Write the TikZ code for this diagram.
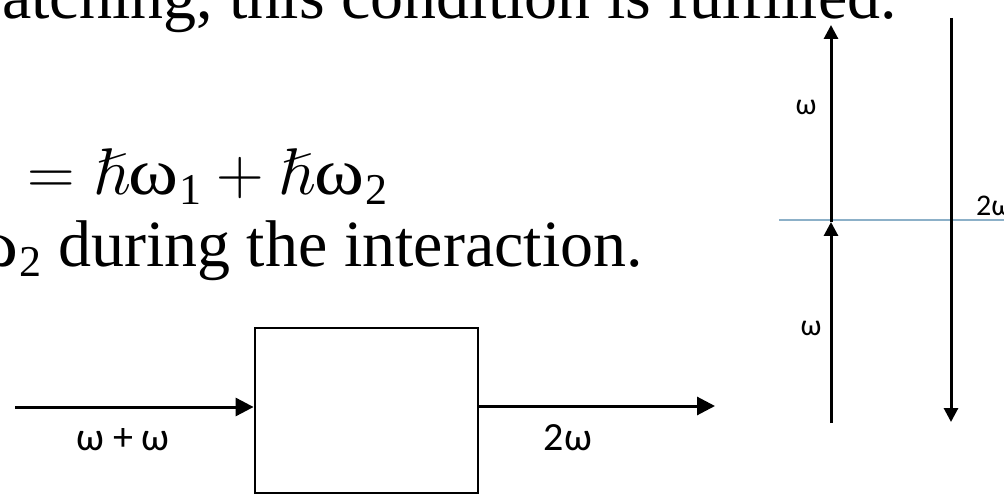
\RequirePackage{fix-cm}
\documentclass[tikz,border=0pt]{standalone}
\usepackage{amssymb}
\usepackage{graphicx}
\usepackage{fontspec}
\setmainfont{Liberation Serif}
\newfontfamily\lab{Carlito}
\usetikzlibrary{arrows.meta}
\definecolor{levelblue}{RGB}{140,176,200}
\newcommand\wsub[1]{\scalebox{1.15}[1]{ω}\kern1bp\raisebox{-10bp}{\fontsize{44bp}{44bp}\selectfont #1}}
\tikzset{
  bigtext/.style={inner sep=0pt, font=\fontsize{66bp}{78bp}\selectfont},
  boxarr/.style={line width=3bp, -{Triangle[length=18bp,width=18bp]}},
  levarr/.style={line width=3bp, -{Triangle[length=14bp,width=14bp]}},
  boxlab/.style={inner sep=0pt, font=\lab\fontsize{40bp}{48bp}\selectfont},
  levlab/.style={inner sep=0pt, font=\lab\fontsize{30bp}{36bp}\selectfont},
}
\begin{document}
\begin{tikzpicture}[x=1bp,y=-1bp]
\useasboundingbox (0,0) rectangle (1004,498);
\clip (0,0) rectangle (1004,498);
% text lines
\node[bigtext, anchor=base east] (line1) at (897,19)
  {atching, this condition is fulfilled.};
\node[bigtext, anchor=base west] (line2) at (27,195)
  {$=\hslash\mbox{\wsub{1}}+\hslash\mbox{\wsub{2}}$};
\node[bigtext, anchor=base east] (line3) at (643,267)
  {\wsub{2} during the interaction.};
% block diagram
\node[draw, line width=2.8bp, minimum width=223bp, minimum height=165bp, inner sep=0pt] (box) at (366.5,410.5) {};
\coordinate (in) at (15,407);
\coordinate (out) at (715,406);
\draw[boxarr] (in) -- (in -| box.west);
\draw[boxarr] (out -| box.east) -- (out);
\node[boxlab] (inlab) at (123,440) {ω + ω};
\node[boxlab] (outlab) at (568,438) {2ω};
% level diagram
\coordinate (L0) at (779,220);
\coordinate (L1) at (1010,220);
\draw[levelblue, line width=2.2bp] (L0) -- (L1);
\coordinate (A0) at (831,423);
\coordinate (A1) at (831,222);
\coordinate (A2) at (831,25);
\draw[levarr] (A0) -- (A1);
\draw[levarr] (A1) -- (A2);
\coordinate (D0) at (951,18);
\coordinate (D1) at (951,422);
\draw[levarr] (D0) -- (D1);
\node[levlab] (w1) at (806,107) {ω};
\node[levlab] (w2) at (811,328) {ω};
\node[levlab, anchor=base west] (w3) at (976,216) {2ω};
\end{tikzpicture}
\end{document}
